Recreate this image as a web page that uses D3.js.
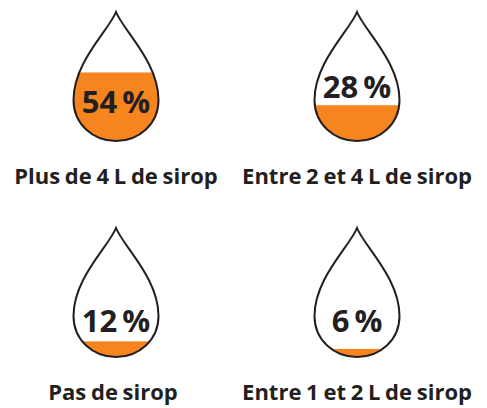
<!DOCTYPE html>
<html><head><meta charset="utf-8">
<script src="https://cdn.jsdelivr.net/npm/d3@7"></script>
<style>html,body{margin:0;padding:0;background:#fff}svg{display:block}</style></head>
<body><svg id="c" width="487" height="408"></svg>
<script>
const categories=["Plus de 4 L de sirop","Entre 2 et 4 L de sirop","Pas de sirop","Entre 1 et 2 L de sirop"];
const values=[54,28,12,6];
const svg=d3.select("#c");
const origins=[[116,12],[357,12],[116,228],[357,228]];
const valueY=[101,86,104,104];
const labelX=[0,0,-3,0];
const W=42.5,H=129;
const level=d3.scaleLinear().domain([0,100]).range([H-.5,H-126.5]);
const line=d3.path();
line.moveTo(0,0);
line.bezierCurveTo(-7,18,-W,50,-W,88);
line.bezierCurveTo(-W,112,-23,129,0,129);
line.bezierCurveTo(23,129,W,112,W,88);
line.bezierCurveTo(W,50,7,18,0,0);
line.closePath();
const d=line.toString();
const defs=svg.append("defs");
const g=svg.selectAll("g.d").data(categories).join("g").attr("class","d")
 .attr("transform",(c,i)=>`translate(${origins[i][0]},${origins[i][1]})`);
g.each(function(c,i){
 defs.append("clipPath").attr("id","cp"+i).append("path").attr("d",d);
 const s=d3.select(this);
 const y=level(values[i]);
 s.append("rect").attr("x",-W-2).attr("width",2*W+4).attr("y",y).attr("height",H-y+2)
  .attr("fill","#f6841f").attr("clip-path",`url(#cp${i})`);
 s.append("path").attr("d",d).attr("fill","none").attr("stroke","#231f20").attr("stroke-width",2);
 s.append("text").attr("x",0).attr("y",valueY[i]).attr("text-anchor","middle")
  .attr("font-family","'Open Sans'").attr("font-weight",700).attr("font-size",31).attr("word-spacing",-3).attr("fill","#231f20")
  .text(values[i]+" %");
 s.append("text").attr("x",labelX[i]).attr("y",172).attr("text-anchor","middle")
  .attr("font-family","'Open Sans'").attr("font-weight",700).attr("font-size",22).attr("word-spacing",-1).attr("fill","#231f20")
  .text(c);
});
</script></body></html>
